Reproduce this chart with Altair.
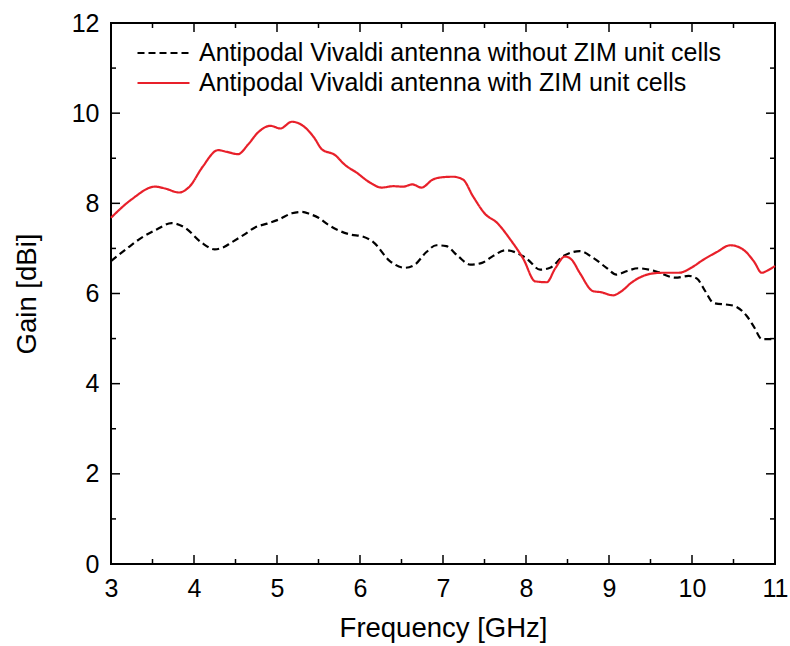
import altair as alt
import pandas as pd

series_names = [
    "Antipodal Vivaldi antenna without ZIM unit cells",
    "Antipodal Vivaldi antenna with ZIM unit cells",
]

freq_without = [3.0, 3.18, 3.37, 3.55, 3.73, 3.89, 4.09, 4.25, 4.35, 4.45, 4.6, 4.73, 4.88, 5.02,
                5.18, 5.30, 5.40, 5.50, 5.62, 5.74, 5.88, 6.04, 6.16, 6.36, 6.54, 6.66, 6.80, 6.92,
                7.04, 7.18, 7.33, 7.47, 7.61, 7.75, 7.89, 8.01, 8.17, 8.29, 8.45, 8.65, 8.81, 8.97,
                9.09, 9.22, 9.35, 9.55, 9.80, 9.96, 10.06, 10.16, 10.26, 10.50, 10.66, 10.75, 10.84, 11.0]
gain_without = [6.72, 6.98, 7.24, 7.42, 7.56, 7.46, 7.13, 6.98, 7.02, 7.13, 7.30, 7.46, 7.55, 7.64,
                7.78, 7.81, 7.76, 7.68, 7.52, 7.40, 7.31, 7.26, 7.14, 6.72, 6.57, 6.64, 6.92, 7.07,
                7.05, 6.83, 6.64, 6.68, 6.84, 6.96, 6.90, 6.77, 6.53, 6.57, 6.83, 6.94, 6.79, 6.57,
                6.42, 6.50, 6.56, 6.50, 6.35, 6.39, 6.33, 6.05, 5.79, 5.73, 5.50, 5.25, 4.99, 4.99]

freq_with = [3.0, 3.25, 3.53, 3.65, 3.82, 3.95, 4.1, 4.29, 4.4, 4.53, 4.65, 4.77, 4.92, 5.04,
             5.18, 5.34, 5.45, 5.54, 5.70, 5.82, 5.96, 6.12, 6.26, 6.40, 6.52, 6.63, 6.74, 6.88,
             7.0, 7.12, 7.24, 7.36, 7.51, 7.65, 7.81, 7.97, 8.11, 8.25, 8.35, 8.47, 8.55, 8.65,
             8.81, 8.9, 9.05, 9.15, 9.27, 9.4, 9.51, 9.65, 9.84, 10.0, 10.12, 10.3, 10.46, 10.55,
             10.64, 10.75, 10.84, 10.92, 11.0]
gain_with = [7.68, 8.09, 8.37, 8.33, 8.24, 8.38, 8.80, 9.18, 9.14, 9.09, 9.30, 9.57, 9.72, 9.66,
             9.81, 9.68, 9.45, 9.20, 9.07, 8.85, 8.68, 8.46, 8.35, 8.38, 8.37, 8.42, 8.35, 8.53,
             8.58, 8.59, 8.53, 8.16, 7.76, 7.57, 7.20, 6.76, 6.27, 6.25, 6.55, 6.82, 6.75, 6.45,
             6.05, 6.03, 5.96, 6.05, 6.24, 6.38, 6.44, 6.46, 6.46, 6.58, 6.73, 6.92, 7.07, 7.04,
             6.94, 6.70, 6.46, 6.52, 6.61]

x_major = [3, 4, 5, 6, 7, 8, 9, 10, 11]
x_minor = [3.5, 4.5, 5.5, 6.5, 7.5, 8.5, 9.5, 10.5]
y_major = [0, 2, 4, 6, 8, 10, 12]
y_minor = [1, 3, 5, 7, 9, 11]

W, H = 664, 541
FONT = "Liberation Sans"

df = pd.concat([
    pd.DataFrame({"f": freq_without, "g": gain_without, "series": series_names[0]}),
    pd.DataFrame({"f": freq_with, "g": gain_with, "series": series_names[1]}),
], ignore_index=True)

xs = alt.Scale(domain=[3, 11], nice=False, zero=False)
ys = alt.Scale(domain=[0, 12], nice=False, zero=False)

x_axis = alt.Axis(
    values=x_major, title="Frequency [GHz]", ticks=False, domain=False, grid=False,
    labelFontSize=25, labelPadding=12, titleFontSize=27.5, titlePadding=13,
    labelFont=FONT, titleFont=FONT, labelColor="black", titleColor="black",
    titleFontWeight="normal", labelFlush=False)
y_axis = alt.Axis(
    values=y_major, title="Gain [dBi]", ticks=False, domain=False, grid=False,
    labelFontSize=25, labelPadding=12, titleFontSize=27.5, titlePadding=30,
    labelFont=FONT, titleFont=FONT, labelColor="black", titleColor="black",
    titleFontWeight="normal", labelFlush=False)

legend = alt.Legend(title=None, orient="none", legendX=40, legendY=17.5,
                    symbolType="M-2.6,0H2.6", symbolSize=400, symbolStrokeWidth=2.2,
                    labelFontSize=25, labelFont=FONT, labelColor="black",
                    labelOffset=23, labelLimit=0, rowPadding=4)

lines = alt.Chart(df).mark_line(strokeWidth=2.2, interpolate="monotone").encode(
    x=alt.X("f:Q", scale=xs, axis=x_axis, title="Frequency [GHz]"),
    y=alt.Y("g:Q", scale=ys, axis=y_axis, title="Gain [dBi]"),
    color=alt.Color("series:N", scale=alt.Scale(domain=series_names, range=["black", "#E8202A"]),
                    legend=legend),
    strokeDash=alt.StrokeDash("series:N", scale=alt.Scale(domain=series_names, range=[[7, 4], [1, 0]]),
                              legend=legend),
    order=alt.Order("f:Q"),
)


def xticks(vals, y0, y1):
    return alt.Chart(pd.DataFrame({"v": vals})).mark_rule(color="black", strokeWidth=1.5).encode(
        x=alt.X("v:Q", scale=xs, axis=x_axis, title="Frequency [GHz]"),
        y=alt.value(y0), y2=alt.value(y1))


def yticks(vals, x0, x1):
    return alt.Chart(pd.DataFrame({"v": vals})).mark_rule(color="black", strokeWidth=1.5).encode(
        y=alt.Y("v:Q", scale=ys, axis=y_axis, title="Gain [dBi]"),
        x=alt.value(x0), x2=alt.value(x1))


MAJ, MIN = 9, 5
chart = alt.layer(
    lines,
    xticks(x_major, H, H - MAJ), xticks(x_minor, H, H - MIN),
    xticks(x_major, 0, MAJ), xticks(x_minor, 0, MIN),
    yticks(y_major, 0, MAJ), yticks(y_minor, 0, MIN),
    yticks(y_major, W, W - MAJ), yticks(y_minor, W, W - MIN),
).properties(
    width=W, height=H,
    autosize=alt.AutoSizeParams(type="none"),
    padding={"left": 111, "top": 23, "right": 15, "bottom": 82},
    background="white",
).configure_view(stroke="black", strokeWidth=2)

chart.save("out.html", embed_options={"renderer": "svg", "actions": False})
